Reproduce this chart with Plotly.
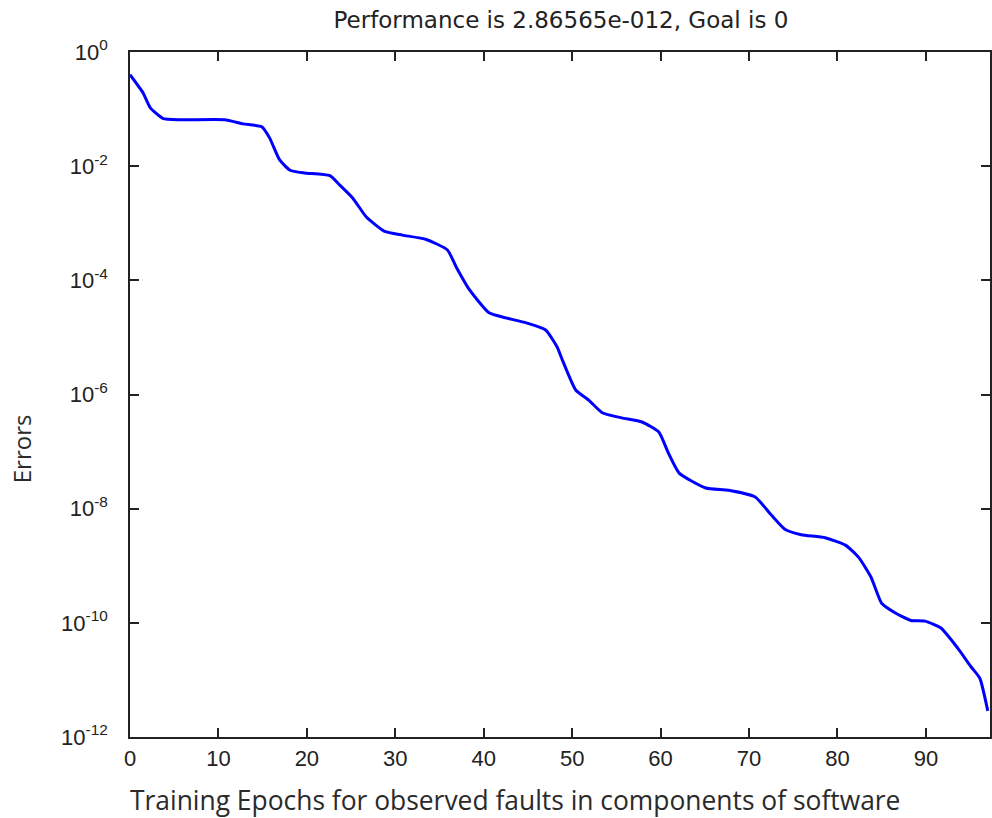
import plotly.graph_objects as go

# Data (training epochs vs. performance/error)
epochs = [0, 1.5, 2.3, 3.7, 5.6, 10.7, 12.8, 14.9, 15.8, 16.9, 18.1, 19.7, 22.6, 23.7,
          25.2, 26.7, 28.8, 30.8, 33.5, 35.9, 36.9, 38.4, 40.6, 42.5, 44.8, 47.0,
          48.3, 48.9, 50.4, 51.9, 53.4, 55.6, 57.9, 59.8, 60.9, 62.1, 65.1, 67.7,
          70.7, 72.5, 74.1, 75.9, 78.6, 80.9, 82.4, 83.8, 85.0, 86.5, 88.3, 89.9,
          91.7, 93.6, 95.1, 96.1, 97.0]
errors = [4.0e-1, 1.9e-1, 1.05e-1, 6.9e-2, 6.5e-2, 6.5e-2, 5.5e-2, 4.9e-2, 3.1e-2,
          1.3e-2, 8.5e-3, 7.6e-3, 6.8e-3, 4.7e-3, 2.75e-3, 1.3e-3, 7.2e-4, 6.2e-4,
          5.2e-4, 3.4e-4, 1.7e-4, 6.8e-5, 2.7e-5, 2.2e-5, 1.8e-5, 1.35e-5, 6.8e-6,
          4.0e-6, 1.2e-6, 7.9e-7, 4.8e-7, 3.9e-7, 3.3e-7, 2.2e-7, 9.3e-8, 4.2e-8,
          2.3e-8, 2.1e-8, 1.6e-8, 7.8e-9, 4.3e-9, 3.5e-9, 3.1e-9, 2.3e-9, 1.4e-9,
          6.3e-10, 2.2e-10, 1.5e-10, 1.1e-10, 1.07e-10, 8.1e-11, 3.6e-11, 1.7e-11,
          1.07e-11, 2.86565e-12]

x_ticks = [0, 10, 20, 30, 40, 50, 60, 70, 80, 90]
y_tickvals = [1e0, 1e-2, 1e-4, 1e-6, 1e-8, 1e-10, 1e-12]
y_ticktext = ["10<sup>0</sup>", "10<sup>-2</sup>", "10<sup>-4</sup>", "10<sup>-6</sup>",
              "10<sup>-8</sup>", "10<sup>-10</sup>", "10<sup>-12</sup>"]

title_text = "Performance is 2.86565e-012, Goal is 0"
x_label = "Training Epochs for observed faults in components of software"
y_label = "Errors"

tick_font = dict(family="Liberation Sans, Arial, sans-serif", size=22, color="#222222")
xlabel_font = dict(family="Open Sans, Calibri, sans-serif", size=26.4, color="#2a2a2a")
ylabel_font = dict(family="Open Sans, Calibri, sans-serif", size=24, color="#2a2a2a")

fig = go.Figure()
fig.add_trace(go.Scatter(x=epochs, y=errors, mode="lines",
                         line=dict(color="#0000ff", width=3, shape="spline", smoothing=0.5),
                         showlegend=False))

fig.update_layout(
    width=992, height=818,
    margin=dict(l=130, r=0, t=52, b=81),
    paper_bgcolor="white", plot_bgcolor="white",
    title=dict(text=title_text, x=0.5655, xanchor="center",
               y=1 - 20 / 818, yanchor="middle", yref="container",
               font=dict(family="DejaVu Sans, sans-serif", size=23, color="#222222")),
)

fig.update_xaxes(
    range=[0, 97.25], tickvals=x_ticks, ticktext=[str(v) for v in x_ticks],
    ticks="inside", ticklen=9, tickwidth=1.5, tickcolor="#222222",
    showline=True, linecolor="#222222", linewidth=1.5, mirror="ticks",
    showgrid=False, zeroline=False, tickfont=tick_font, ticklabelstandoff=1,
)
fig.update_yaxes(
    type="log", range=[-12, 0], tickvals=y_tickvals, ticktext=y_ticktext,
    ticks="inside", ticklen=9, tickwidth=1.5, tickcolor="#222222",
    showline=True, linecolor="#222222", linewidth=1.5, mirror="ticks",
    showgrid=False, zeroline=False, tickfont=tick_font, ticklabelstandoff=16,
)

fig.add_annotation(text=x_label, xref="paper", yref="paper",
                   x=(516 - 130) / 862, y=-(800 - 737) / 685,
                   xanchor="center", yanchor="middle", showarrow=False, font=xlabel_font)
fig.add_annotation(text=y_label, xref="paper", yref="paper",
                   x=(22 - 130) / 862, y=(737 - 449) / 685, textangle=-90,
                   xanchor="center", yanchor="middle", showarrow=False, font=ylabel_font)

fig.write_html("out.html", config={"displayModeBar": False},
               post_script="document.body.style.margin='0';")
